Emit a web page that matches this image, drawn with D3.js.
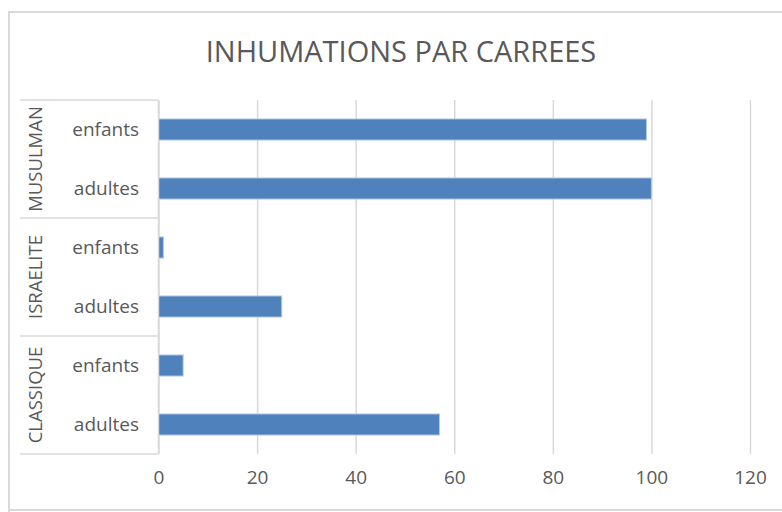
<!DOCTYPE html>
<html>
<head>
<meta charset="utf-8">
<script src="https://cdn.jsdelivr.net/npm/d3@7"></script>
<style>
  body { margin: 0; background: #fff; }
  text { font-family: "Open Sans", sans-serif; fill: #595959; }
</style>
</head>
<body>
<div id="chart"></div>
<script>
// top to bottom, as in the picture
const groups = ['MUSULMAN', 'ISRAELITE', 'CLASSIQUE'];
const ages = ['enfants', 'adultes'];
const values = [99, 100, 1, 25, 5, 57];   // same order: group x age
const xTicks = [0, 20, 40, 60, 80, 100, 120];

const rows = [];
groups.forEach((g, i) => ages.forEach((a, j) => rows.push({group: g, age: a, key: g + '|' + a, value: values[i * ages.length + j]})));

const width = 782;
const height = 512;
const plotLeft = 158.5, plotRight = 750, plotTop = 100, plotBottom = 454;

const svg = d3.select('#chart').append('svg')
             .attr('width', width)
             .attr('height', height)

// chart border
svg.append('path')
   .attr('d', `M9,${height + 5}V12H${width + 5}`)
   .attr('fill', 'none')
   .attr('stroke', '#d9d9d9')
   .attr('stroke-width', 2)
svg.append('line')
   .attr('x1', 9).attr('x2', width)
   .attr('y1', 510).attr('y2', 510)
   .attr('stroke', '#d9d9d9')
   .attr('stroke-width', 2)

const xScale = d3.scaleLinear().domain([0, 120]).range([plotLeft, plotRight])
const yScale = d3.scaleBand().domain(rows.map(d => d.key)).range([plotTop, plotBottom])
                 .paddingInner(0.643).paddingOuter(0.3215)

svg.append('text')
   .attr('x', 401)
   .attr('y', 62)
   .attr('text-anchor', 'middle')
   .style('font-size', '29px')
   .text('INHUMATIONS PAR CARREES')

// grid
const xAxis = d3.axisBottom(xScale).tickValues(xTicks).tickSize(-(plotBottom - plotTop)).tickPadding(17)
const gx = svg.append('g')
              .attr('transform', `translate(0,${plotBottom})`)
              .call(xAxis)
gx.select('.domain').remove()
gx.selectAll('.tick line').attr('stroke', '#d9d9d9').attr('stroke-width', 1.5)
gx.selectAll('.tick text').style('font-size', '19px').attr('fill', '#595959')

// bars
svg.selectAll('rect.bar')
   .data(rows)
   .join('rect')
   .attr('class', 'bar')
   .attr('x', xScale(0))
   .attr('y', d => yScale(d.key))
   .attr('width', d => xScale(d.value) - xScale(0))
   .attr('height', yScale.bandwidth())
   .attr('fill', '#4f81bd')
   .attr('stroke', '#b4c8e4')
   .attr('stroke-width', 1)

// category axis (two levels)
const step = yScale.step();
const axisG = svg.append('g')

axisG.append('line')
     .attr('x1', plotLeft).attr('x2', plotLeft)
     .attr('y1', plotTop).attr('y2', plotBottom)
     .attr('stroke', '#d9d9d9')
     .attr('stroke-width', 1.5)

const bounds = d3.range(groups.length + 1).map(i => plotTop + i * ages.length * step)
axisG.selectAll('line.sep')
     .data(bounds)
     .join('line')
     .attr('class', 'sep')
     .attr('x1', 20).attr('x2', plotLeft)
     .attr('y1', d => d).attr('y2', d => d)
     .attr('stroke', '#d9d9d9')
     .attr('stroke-width', 1.5)

axisG.selectAll('text.age')
     .data(rows)
     .join('text')
     .attr('class', 'age')
     .attr('x', 139)
     .attr('y', d => yScale(d.key) + yScale.bandwidth() / 2)
     .attr('dy', '0.35em')
     .attr('text-anchor', 'end')
     .style('font-size', '19px')
     .text(d => d.age)

axisG.selectAll('text.group')
     .data(groups)
     .join('text')
     .attr('class', 'group')
     .attr('transform', (d, i) => `translate(36,${(bounds[i] + bounds[i + 1]) / 2}) rotate(-90)`)
     .attr('dy', '0.35em')
     .attr('text-anchor', 'middle')
     .style('font-size', '18.5px')
     .text(d => d)
</script>
</body>
</html>
